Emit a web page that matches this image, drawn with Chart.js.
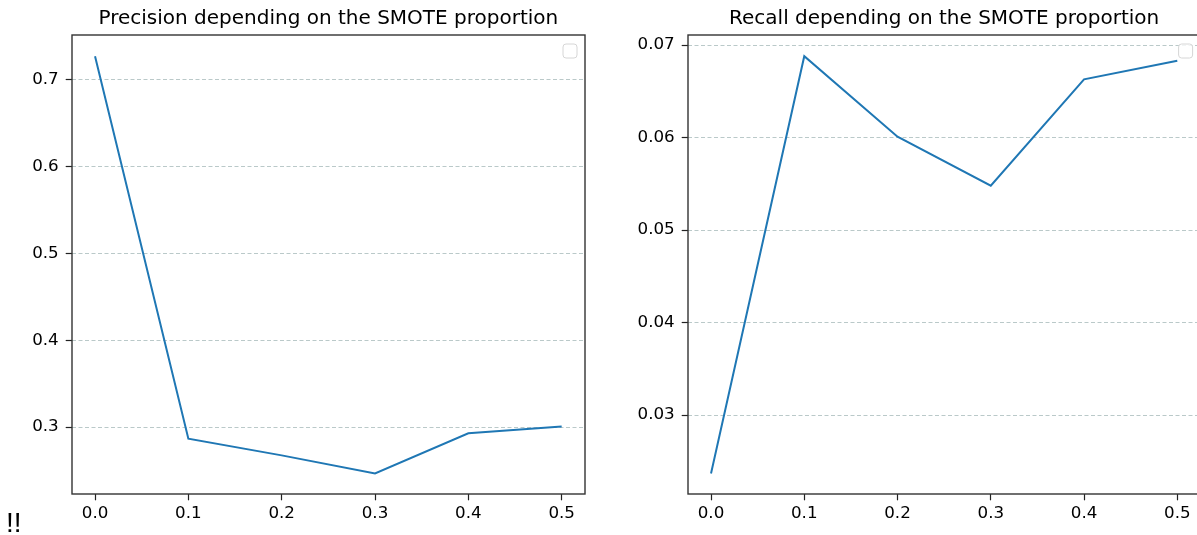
<!DOCTYPE html>
<html><head><meta charset="utf-8">
<script src="https://cdn.jsdelivr.net/npm/chart.js@4.4.1/dist/chart.umd.min.js"></script>
<style>
html,body{margin:0;padding:0;background:#fff;width:1197px;height:535px;overflow:hidden;position:relative}
#w1{position:absolute;left:0;top:0;width:600px;height:535px}
#w2{position:absolute;left:600px;top:0;width:615px;height:535px}
#bang{position:absolute;left:6px;top:509px;font-family:"Liberation Sans";font-size:28px;line-height:28px;color:#000}
</style></head><body>
<div id="w1"><canvas id="c1"></canvas></div>
<div id="w2"><canvas id="c2"></canvas></div>
<div id="bang">!!</div>
<script>
const smoteProportions = [0.0, 0.1, 0.2, 0.3, 0.4, 0.5];
const precisionValues = [0.727, 0.2867, 0.2675, 0.2467, 0.293, 0.3008];
const recallValues = [0.0237, 0.0688, 0.0601, 0.0548, 0.0663, 0.0683];
const xTickValues = [0.0, 0.1, 0.2, 0.3, 0.4, 0.5];
const precisionTickValues = [0.3, 0.4, 0.5, 0.6, 0.7];
const recallTickValues = [0.03, 0.04, 0.05, 0.06, 0.07];
const precisionTitle = 'Precision depending on the SMOTE proportion';
const recallTitle = 'Recall depending on the SMOTE proportion';

Chart.defaults.font.family = 'DejaVu Sans';
Chart.defaults.color = '#000';

function autoLimits(arr){
  const mn = Math.min(...arr), mx = Math.max(...arr), m = (mx - mn) * 0.05;
  return [mn - m, mx + m];
}

const framePlugin = {
  id: 'frame',
  afterDatasetsDraw(chart){
    const {ctx, chartArea: a} = chart;
    ctx.save();
    const l = Math.round(a.left), t = Math.round(a.top);
    const r = Math.round(a.right), b = Math.round(a.bottom);
    ctx.strokeStyle = '#333';
    ctx.lineWidth = 1.4;
    ctx.strokeRect(l, t, r - l, b - t);
    // empty legend frame
    const s = 14, x = a.right - 8 - s, y = a.top + 8.7;
    ctx.beginPath();
    ctx.roundRect(x, y, s, s, 3);
    ctx.fillStyle = 'rgba(255,255,255,0.8)';
    ctx.fill();
    ctx.strokeStyle = '#d6d6d6';
    ctx.lineWidth = 1;
    ctx.stroke();
    ctx.restore();
  }
};

function makeChart(id, title, values, yTicks, yDec, yAxisWidth, padRight){
  const [xmin, xmax] = autoLimits(smoteProportions);
  const [ymin, ymax] = autoLimits(values);
  return new Chart(document.getElementById(id), {
    type: 'line',
    data: {
      datasets: [{
        data: smoteProportions.map((x, i) => ({x: x, y: values[i]})),
        borderColor: '#1f77b4',
        borderWidth: 2,
        pointRadius: 0,
        pointHoverRadius: 0,
        tension: 0,
        fill: false
      }]
    },
    options: {
      responsive: true,
      maintainAspectRatio: false,
      animation: false,
      devicePixelRatio: 1,
      events: [],
      layout: {padding: {left: 0, right: padRight, top: 0, bottom: 0}},
      plugins: {
        legend: {display: false},
        tooltip: {enabled: false},
        title: {
          display: true, text: title, fullSize: false, color: '#000',
          font: {family: 'DejaVu Sans', size: 20, weight: 'normal', lineHeight: 1.2},
          padding: {top: 6.8, bottom: 4.5}
        }
      },
      scales: {
        x: {
          type: 'linear', min: xmin, max: xmax,
          afterBuildTicks: s => { s.ticks = xTickValues.map(v => ({value: v})); },
          afterFit: s => { s.height = 40.7; },
          ticks: {color: '#000', font: {size: 16.7}, padding: 3.5, maxRotation: 0, autoSkip: false,
                  callback: v => Number(v).toFixed(1)},
          grid: {display: true, drawOnChartArea: false, drawTicks: true, tickLength: 6,
                 tickColor: '#222', tickWidth: 1.2, tickBorderDash: []},
          border: {display: false}
        },
        y: {
          type: 'linear', min: ymin, max: ymax,
          afterBuildTicks: s => { s.ticks = yTicks.map(v => ({value: v})); },
          afterFit: s => { s.width = yAxisWidth; },
          ticks: {color: '#000', font: {size: 16.7}, padding: 7, autoSkip: false,
                  callback: v => Number(v).toFixed(yDec)},
          grid: {display: true, drawOnChartArea: true, drawTicks: true, tickLength: 6,
                 tickColor: '#222', tickWidth: 1.2, tickBorderDash: [],
                 color: 'rgba(140,165,165,0.6)', lineWidth: 1},
          border: {display: false, dash: [4, 2.5]}
        }
      }
    },
    plugins: [framePlugin]
  });
}

makeChart('c1', precisionTitle, precisionValues, precisionTickValues, 1, 71.7, 15);
makeChart('c2', recallTitle, recallValues, recallTickValues, 2, 87.7, 14.4);
</script>
</body></html>
